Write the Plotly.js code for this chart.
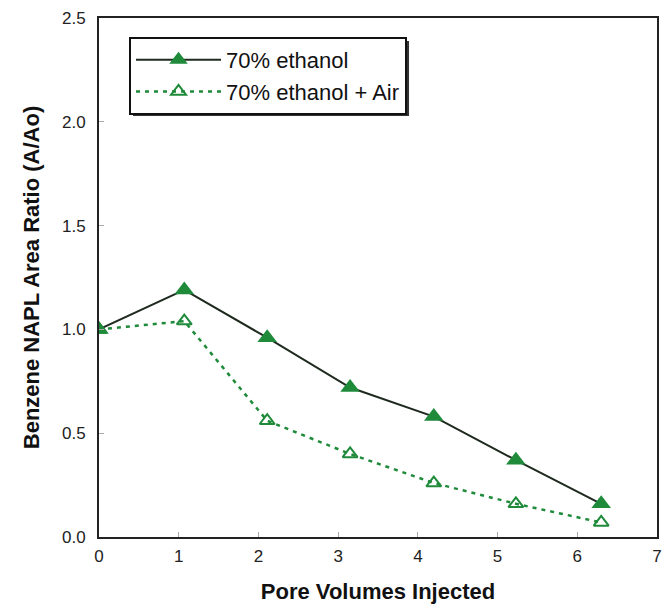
<!DOCTYPE html>
<html><head><meta charset="utf-8">
<script src="https://cdn.plot.ly/plotly-3.0.1.min.js"></script>
<style>html,body{margin:0;padding:0;background:#fff}</style>
</head><body><div id="chart" style="width:670px;height:604px"></div>
<script>
const xEthanol = [0, 1.07, 2.11, 3.15, 4.20, 5.23, 6.30];
const yEthanol = [1.00, 1.19, 0.96, 0.72, 0.58, 0.37, 0.16];
const xEthanolAir = [0, 1.07, 2.11, 3.15, 4.20, 5.23, 6.30];
const yEthanolAir = [1.00, 1.04, 0.56, 0.40, 0.26, 0.16, 0.07];
const seriesNames = ['70% ethanol', '70% ethanol + Air'];
const xTicks = [0, 1, 2, 3, 4, 5, 6, 7];
const yTicks = [0, 0.5, 1.0, 1.5, 2.0, 2.5];

const green = '#1e8a3a';
const data = [
  {x: xEthanol, y: yEthanol, name: seriesNames[0], mode: 'lines+markers', type: 'scatter',
   legendgroup: 'a',
   line: {color: '#1f2a1f', width: 2},
   marker: {symbol: 'triangle-up', size: 17, color: green, line: {width: 0}}},
  {x: xEthanolAir, y: yEthanolAir, name: seriesNames[1], mode: 'lines+markers', type: 'scatter',
   legendgroup: 'b',
   line: {color: green, width: 2.5, dash: '4px,5px'},
   marker: {symbol: 'triangle-up-open', size: 13, color: green, line: {width: 2, color: green}}}
];
const layout = {
  width: 670, height: 604,
  margin: {l: 99, r: 13, t: 18, b: 67},
  paper_bgcolor: '#fff', plot_bgcolor: '#fff',
  font: {family: 'Liberation Sans, Arial, sans-serif', color: '#222'},
  showlegend: true,
  legend: {x: 0.0538, y: 0.9634, xanchor: 'left', yanchor: 'top',
    bgcolor: '#fff', bordercolor: '#111', borderwidth: 2,
    font: {size: 22, color: '#111'}, traceorder: 'grouped', tracegroupgap: 0, itemwidth: 85},
  xaxis: {range: [0, 7], tickvals: xTicks, ticktext: xTicks.map(String),
    showline: true, linecolor: '#222', linewidth: 2, mirror: true,
    ticks: 'inside', ticklen: 5, tickcolor: '#aaa', showgrid: false, zeroline: false,
    ticklabelstandoff: 3,
    tickfont: {size: 17, color: '#222'},
    title: {text: '<b>Pore Volumes Injected</b>', font: {size: 22, color: '#111'}, standoff: 20}},
  yaxis: {range: [0, 2.5], tickvals: yTicks, ticktext: yTicks.map(v => v.toFixed(1)),
    showline: true, linecolor: '#222', linewidth: 2, mirror: true,
    ticks: 'inside', ticklen: 5, tickcolor: '#aaa', showgrid: false, zeroline: false,
    ticklabelstandoff: 8,
    tickfont: {size: 17, color: '#222'},
    title: {text: '<b>Benzene NAPL Area Ratio (A/Ao)</b>', font: {size: 22, color: '#111'}, standoff: 16}},
  shapes: [
    {type: 'rect', xref: 'paper', yref: 'paper', x0: 0.0609, x1: 0.5556, y0: 0.8112, y1: 0.9557,
     fillcolor: '#333', line: {width: 0}, layer: 'below'}
  ]
};
Plotly.newPlot('chart', data, layout, {displayModeBar: false});
</script></body></html>
